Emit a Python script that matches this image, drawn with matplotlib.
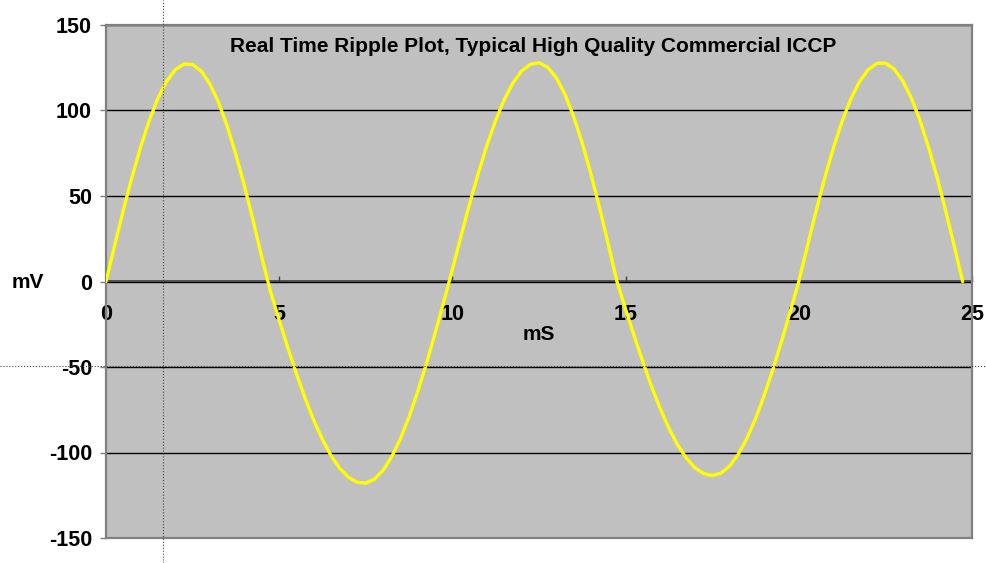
import matplotlib.pyplot as plt
from matplotlib.lines import Line2D

plt.rcParams['font.family'] = ['Liberation Sans', 'DejaVu Sans']
plt.rcParams['font.weight'] = 'bold'
plt.rcParams['axes.unicode_minus'] = False

# Ripple voltage (mS, mV)
time_ms = [0.0, 0.25, 0.5, 0.75, 1.0, 1.25, 1.5, 1.75, 2.0, 2.25,
           2.5, 2.75, 3.0, 3.25, 3.5, 3.75, 4.0, 4.25, 4.5, 4.75,
           5.0, 5.25, 5.5, 5.75, 6.0, 6.25, 6.5, 6.75, 7.0, 7.25,
           7.5, 7.75, 8.0, 8.25, 8.5, 8.75, 9.0, 9.25, 9.5, 9.75,
           10.0, 10.25, 10.5, 10.75, 11.0, 11.25, 11.5, 11.75, 12.0, 12.25,
           12.5, 12.75, 13.0, 13.25, 13.5, 13.75, 14.0, 14.25, 14.5, 14.75,
           15.0, 15.25, 15.5, 15.75, 16.0, 16.25, 16.5, 16.75, 17.0, 17.25,
           17.5, 17.75, 18.0, 18.25, 18.5, 18.75, 19.0, 19.25, 19.5, 19.75,
           20.0, 20.25, 20.5, 20.75, 21.0, 21.25, 21.5, 21.75, 22.0, 22.25,
           22.5, 22.75, 23.0, 23.25, 23.5, 23.75, 24.0, 24.25, 24.5, 24.73]
ripple_mv = [0.0, 21.1, 41.7, 61.0, 78.7, 94.3, 107.2, 117.1, 123.9, 127.2,
             126.9, 123.0, 115.5, 104.7, 90.8, 74.2, 55.6, 35.3, 13.9, -6.0,
             -22.6, -38.8, -54.1, -68.4, -81.3, -92.5, -102.0, -109.3, -114.5, -117.4,
             -117.9, -115.6, -110.4, -102.4, -91.9, -79.1, -64.3, -48.0, -30.3, -11.9,
             7.1, 26.7, 45.7, 63.5, 79.9, 94.3, 106.5, 116.2, 123.1, 127.0,
             127.9, 125.3, 119.1, 109.4, 96.5, 80.8, 62.8, 42.9, 21.8, 0.0,
             -16.2, -32.0, -47.1, -61.4, -74.3, -85.8, -95.5, -103.2, -108.9, -112.3,
             -113.5, -112.1, -108.0, -101.1, -91.8, -80.3, -66.7, -51.5, -35.1, -17.8,
             0.0, 20.9, 41.3, 60.6, 78.2, 93.7, 106.7, 116.8, 123.8, 127.5,
             127.7, 124.3, 117.4, 107.3, 94.1, 78.2, 60.3, 40.6, 19.7, 0.0]

x_ticks = [0, 5, 10, 15, 20, 25]
y_ticks = [-150, -100, -50, 0, 50, 100, 150]

fig = plt.figure(figsize=(9.86, 5.63), dpi=100)
ax = fig.add_axes([106 / 986, 25 / 563, 866 / 986, 513 / 563])
ax.set_facecolor('#C0C0C0')

ax.plot(time_ms, ripple_mv, color='#FFFF00', lw=2.4, zorder=3, solid_capstyle='round')

ax.set_xlim(0, 25)
ax.set_ylim(-150, 150)
ax.set_yticks(y_ticks)
ax.grid(axis='y', color='black', lw=1)
ax.tick_params(axis='y', direction='out', length=4.5, width=1, color='#808080',
               labelsize=15.5, pad=5.5)
ax.tick_params(axis='x', bottom=False, labelbottom=False)
for s in ax.spines.values():
    s.set_color('#808080')
    s.set_linewidth(1.6)

# x axis crossing at 0 mV
sec = ax.secondary_xaxis(0.5)
sec.xaxis.set_ticks_position('bottom')
sec.set_xticks(x_ticks)
sec.tick_params(direction='in', length=4, width=1, color='#404040',
                labelsize=15.5, pad=16)
for s in sec.spines.values():
    s.set_color('#404040')
    s.set_linewidth(1.2)

ax.text(0.5, 0.396, 'mS', transform=ax.transAxes, ha='center', va='center',
        fontsize=15, fontweight='bold')
fig.text(28 / 986, 1 - 283 / 563, 'mV', ha='center', va='center',
         fontsize=15, fontweight='bold')
ax.text(0.493, 0.959, 'Real Time Ripple Plot, Typical High Quality Commercial ICCP',
        transform=ax.transAxes, ha='center', va='center', fontsize=15, fontweight='bold')

# dotted cursor lines across the screenshot
fig.add_artist(Line2D([163 / 986, 163 / 986], [0, 1], transform=fig.transFigure,
                      color='#444444', lw=0.8, ls=':'))
fig.add_artist(Line2D([0, 1], [1 - 366 / 563, 1 - 366 / 563], transform=fig.transFigure,
                      color='#444444', lw=0.8, ls=':'))

fig.savefig('out.png', dpi=100)
